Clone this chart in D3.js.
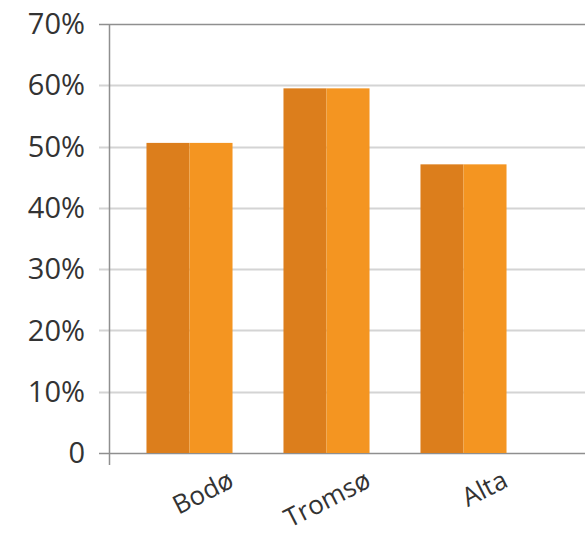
<!DOCTYPE html>
<html><head><meta charset="utf-8">
<script src="https://cdn.jsdelivr.net/npm/d3@7"></script>
<style>body{margin:0;background:#fff}</style>
</head><body>
<svg id="c" width="585" height="534"></svg>
<script>
const categories = ["Bodø", "Tromsø", "Alta"];
const values = [50.6, 59.5, 47.1];
const yTicks = [0, 10, 20, 30, 40, 50, 60, 70];
const yTickLabels = ["0", "10%", "20%", "30%", "40%", "50%", "60%", "70%"];

const svg = d3.select("#c");
const axisX = 109.5, right = 585;
const y = d3.scaleLinear().domain([0, 70]).range([453, 24]);
const x = d3.scaleBand().domain(categories).range([121, 532]).paddingInner(0.372).paddingOuter(0.186);

// gridlines
svg.append("g").selectAll("line").data(yTicks).join("line")
  .attr("x1", 99).attr("x2", right)
  .attr("y1", d => Math.round(y(d)) + 0.5).attr("y2", d => Math.round(y(d)) + 0.5)
  .attr("stroke", d => (d === 0 || d === 70) ? "#8f8f8f" : "#d4d4d4")
  .attr("stroke-width", d => (d === 0 || d === 70) ? 1.5 : 2);

// y axis line
svg.append("line").attr("x1", axisX).attr("x2", axisX).attr("y1", y(70)).attr("y2", 465)
  .attr("stroke", "#8f8f8f").attr("stroke-width", 1.5);

// tick labels
svg.append("g").selectAll("text").data(yTicks).join("text")
  .attr("x", 85).attr("y", d => y(d)).attr("dy", "0.35em")
  .attr("text-anchor", "end")
  .attr("font-family", "Open Sans, sans-serif").attr("font-size", 29)
  .attr("fill", "#333")
  .text((d, i) => yTickLabels[i]);

// bars
const g = svg.append("g");
categories.forEach((c, i) => {
  const bw = x.bandwidth();
  g.append("rect").attr("x", x(c)).attr("y", y(values[i]))
    .attr("width", bw / 2).attr("height", y(0) - y(values[i])).attr("fill", "#dc7e1c");
  g.append("rect").attr("x", x(c) + bw / 2).attr("y", y(values[i]))
    .attr("width", bw / 2).attr("height", y(0) - y(values[i])).attr("fill", "#f49521");
});

// x labels
svg.append("g").selectAll("text").data(categories).join("text")
  .attr("transform", d => `translate(${x(d) + x.bandwidth() / 2 + 46},${486}) rotate(-27)`)
  .attr("text-anchor", "end")
  .attr("font-family", "Open Sans, sans-serif").attr("font-size", 26)
  .attr("fill", "#333")
  .text(d => d);
</script>
</body></html>
